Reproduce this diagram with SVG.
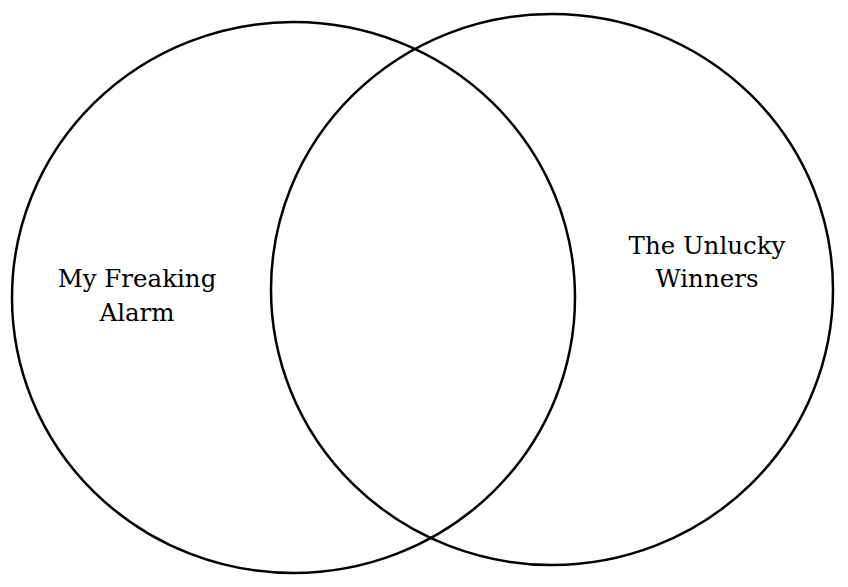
<svg xmlns="http://www.w3.org/2000/svg" width="848" height="587" viewBox="0 0 848 587">
<style>
.c{fill:none;stroke:#000;stroke-width:2.5}
.t{font-family:"DejaVu Serif","Liberation Serif",serif;font-size:24.5px;fill:#000;text-anchor:middle}
</style>
<rect width="848" height="587" fill="#fff"/>
<g id="left">
<ellipse class="c" cx="293.5" cy="297.5" rx="281.5" ry="275.5"/>
<text class="t" x="137" y="287">My Freaking</text>
<text class="t" x="137" y="321">Alarm</text>
</g>
<g id="right">
<ellipse class="c" cx="552" cy="289.5" rx="281" ry="275.5"/>
<text class="t" x="707" y="254">The Unlucky</text>
<text class="t" x="707" y="287">Winners</text>
</g>
<g id="connectors"/>
</svg>
